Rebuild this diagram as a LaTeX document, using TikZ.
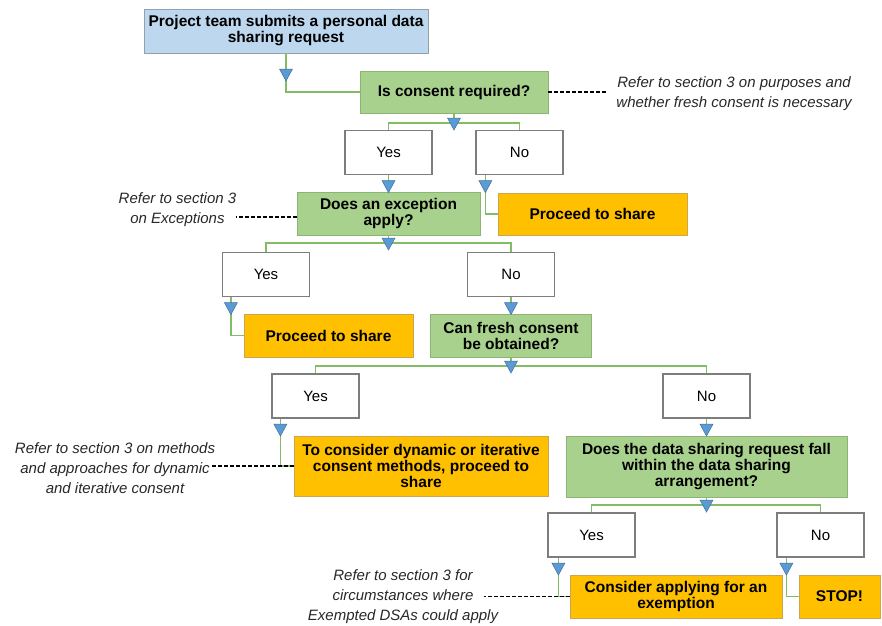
\documentclass[tikz,border=0pt]{standalone}
\usepackage{fontspec}
\setmainfont{Liberation Sans}
\usetikzlibrary{calc}

\definecolor{reqblue}{RGB}{189,215,238}
\definecolor{reqedge}{RGB}{150,160,170}
\definecolor{askgreen}{RGB}{169,209,142}
\definecolor{askedge}{RGB}{140,180,115}
\definecolor{gogold}{RGB}{255,192,0}
\definecolor{goedge}{RGB}{205,165,80}
\definecolor{ansedge}{RGB}{125,125,125}
\definecolor{linkgreen}{RGB}{130,188,100}
\definecolor{triblue}{RGB}{91,155,213}
\definecolor{triedge}{RGB}{65,113,156}
\definecolor{notegray}{RGB}{40,40,40}

\newcommand{\flowtri}[2][0]{\filldraw[tri] ($#2+(-6.5,#1-5.5)$) -- ($#2+(6.5,#1-5.5)$) -- ($#2+(0,#1+6.5)$) -- cycle;}

\begin{document}
\begin{tikzpicture}[x=1pt,y=-1pt,
  box/.style={draw, line width=0.6pt, inner sep=0pt, align=center,
    font=\fontsize{15.5}{16}\selectfont\bfseries},
  startbox/.style={box, fill=reqblue, draw=reqedge},
  askbox/.style={box, fill=askgreen, draw=askedge},
  gobox/.style={box, fill=gogold, draw=goedge},
  ansbox/.style={draw=ansedge, line width=1.2pt, fill=white, inner sep=0pt,
    minimum width=87pt, minimum height=44pt, font=\fontsize{15}{18}\selectfont},
  note/.style={align=center, inner sep=0pt, text=notegray,
    font=\fontsize{15}{20}\selectfont\itshape},
  link/.style={draw=linkgreen, line width=1.3pt},
  tri/.style={fill=triblue, draw=triedge, line width=0.5pt},
  noteline/.style={dash pattern=on 4pt off 2pt, line width=1.1pt}]
\fill[white] (0,0) rectangle (882,625);

\node[startbox, minimum width=284pt, minimum height=44pt] (req) at (286,31) {Project team submits a personal data\\sharing request};
\node[askbox, minimum width=188pt, minimum height=42pt] (q1) at (454,92) {Is consent required?};
\node[ansbox] (y1) at (388.5,152.5) {Yes};
\node[ansbox] (n1) at (519.5,152.5) {No};
\node[askbox, minimum width=183pt, minimum height=43pt] (q2) at (388.5,213.5) {Does an exception\\apply?};
\node[gobox, minimum width=189pt, minimum height=42pt] (p1) at (592.5,214) {Proceed to share};
\node[ansbox] (y2) at (266,274.5) {Yes};
\node[ansbox] (n2) at (511,274.5) {No};
\node[gobox, minimum width=169pt, minimum height=43pt] (p2) at (328.5,335.5) {Proceed to share};
\node[askbox, minimum width=161pt, minimum height=43pt] (q3) at (511,335.5) {Can fresh consent\\be obtained?};
\node[ansbox] (y3) at (315.5,396) {Yes};
\node[ansbox] (n3) at (706.5,396) {No};
\node[gobox, minimum width=254pt, minimum height=60pt] (p3) at (421,466) {To consider dynamic or iterative\\consent methods, proceed to\\share};
\node[askbox, minimum width=281pt, minimum height=61pt] (q4) at (706.5,466.5) {Does the data sharing request fall\\within the data sharing\\arrangement?};
\node[ansbox] (y4) at (591.5,535) {Yes};
\node[ansbox] (n4) at (820.5,535) {No};
\node[gobox, minimum width=212pt, minimum height=43pt] (p4) at (676,596.5) {Consider applying for an\\exemption};
\node[gobox, minimum width=81pt, minimum height=43pt] (stop) at (839.5,596.5) {STOP!};

\node[note] (note1) at (734,94) {Refer to section 3 on purposes and\\whether fresh consent is necessary};
\node[note] (note2) at (177.5,209.5) {Refer to section 3\\on Exceptions};
\node[note] (note3) at (115,468) {Refer to section 3 on methods\\and approaches for dynamic\\and iterative consent};
\node[note] (note4) at (403,597) {Refer to section 3 for\\circumstances where\\Exempted DSAs could apply};

\coordinate (b1) at (454,123);
\coordinate (b2) at (388.5,243);
\coordinate (b3) at (511,366);
\coordinate (b4) at (706.5,505);
\coordinate (n1d) at ([xshift=10pt]n1.south west);
\coordinate (y2d) at ([xshift=9pt]y2.south west);
\coordinate (y3d) at ([xshift=9pt]y3.south west);
\coordinate (y4d) at ([xshift=11pt]y4.south west);
\coordinate (n4d) at ([xshift=10pt]n4.south west);

\draw[link] (req) |- (q1);
\draw[link] (q1) -- (b1);
\draw[link] (y1) |- (b1) -| (n1);
\draw[link] (y1) -- (q2);
\draw[link] (n1d) |- (p1);
\draw[link] (q2) -- (b2);
\draw[link] (y2) |- (b2) -| (n2);
\draw[link] (y2d) |- (p2);
\draw[link] (n2) -- (q3);
\draw[link] (q3) -- (b3);
\draw[link] (y3) |- (b3) -| (n3);
\draw[link] (y3d) |- (p3);
\draw[link] (n3) -- (q4);
\draw[link] (q4) -- (b4);
\draw[link] (y4) |- (b4) -| (n4);
\draw[link] (y4d) |- (p4);
\draw[link] (n4d) |- (stop);

\draw[noteline] (q1.east) -- ($(q1.east -| note1.west)+(-10,0)$);
\draw[noteline] ($(q2.west)+(0,3.5)$) -- ($(q2.west -| note2.east)+(0,3.5)$);
\draw[noteline] (p3.west) -- ($(p3.west -| note3.east)+(-5,0)$);
\draw[noteline] (p4.west) -- ($(p4.west -| note4.east)+(-14,0)$);

\flowtri{(286,74.5)}
\flowtri[0.5]{(b1)}
\flowtri[0.5]{(b2)}
\flowtri[0.5]{(b3)}
\flowtri[0.5]{(b4)}
\flowtri[11]{(y1.south)}
\flowtri[11]{(n1d)}
\flowtri[11]{(y2d)}
\flowtri[11]{(n2.south)}
\flowtri[11]{(y3d)}
\flowtri[11]{(n3.south)}
\flowtri[11]{(y4d)}
\flowtri[11]{(n4d)}
\end{tikzpicture}
\end{document}
